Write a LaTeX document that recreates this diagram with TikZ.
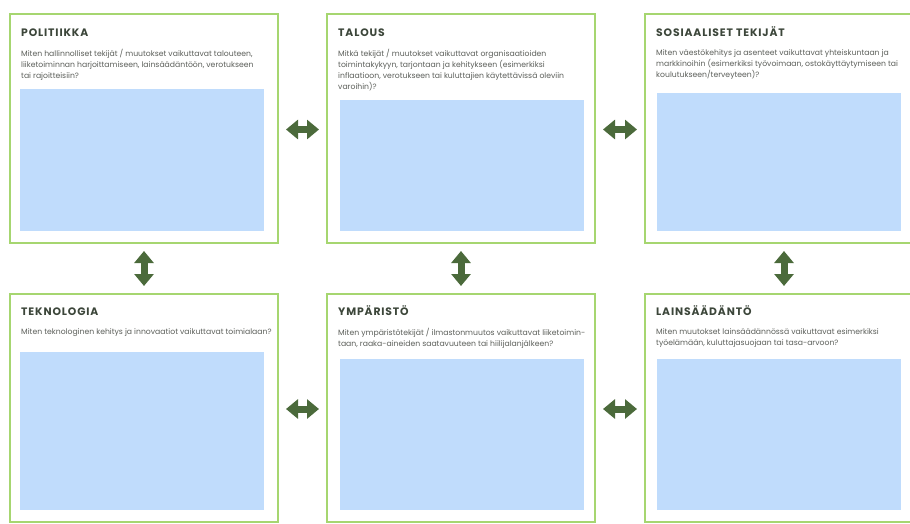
\documentclass[tikz,border=0pt]{standalone}
\usepackage{fontspec}
\setmainfont{Poppins}
\newfontfamily\titlefont[LetterSpace=8]{Poppins}
\usetikzlibrary{arrows.meta}
\definecolor{boxgreen}{HTML}{A6D670}
\definecolor{areablue}{HTML}{C0DCFC}
\definecolor{arrowgreen}{HTML}{4B6A3B}
\definecolor{titlecol}{HTML}{3C463A}
\definecolor{bodycol}{HTML}{5C5F5A}
\tikzset{
  panel/.style={draw=boxgreen, line width=2pt, fill=white},
  area/.style={fill=areablue, draw=none},
  ptitle/.style={anchor=base west, inner sep=0pt, text=titlecol, font=\titlefont\fontsize{10.8}{12}\selectfont\bfseries},
  pbody/.style={anchor=north west, inner sep=0pt, align=left, text=bodycol, font=\fontsize{7.7}{11}\selectfont},
  dbl/.style={draw=arrowgreen, line width=7pt,
    {Triangle[length=12pt,width=19pt]}-{Triangle[length=12pt,width=19pt]},
    shorten <=8pt, shorten >=8pt}
}
\begin{document}
\begin{tikzpicture}[x=1pt,y=-1pt]
\useasboundingbox (0,0) rectangle (910,523);
\fill[white] (0,0) rectangle (910,523);
% panels
\draw[panel] (10,14) rectangle (278,243);
\draw[panel] (327,14) rectangle (595,243);
\draw[panel] (645,14) rectangle (923,243);
\draw[panel] (10,294) rectangle (278,522);
\draw[panel] (327,294) rectangle (595,522);
\draw[panel] (645,294) rectangle (923,522);
\coordinate (b1e) at (278,129.5);
\coordinate (b2w) at (327,129.5);
\coordinate (b2e) at (595,129.5);
\coordinate (b3w) at (645,129.5);
\coordinate (b4e) at (278,409);
\coordinate (b5w) at (327,409);
\coordinate (b5e) at (595,409);
\coordinate (b6w) at (645,409);
\coordinate (b1s) at (144,243);
\coordinate (b4n) at (144,294);
\coordinate (b2s) at (461,243);
\coordinate (b5n) at (461,294);
\coordinate (b3s) at (784,243);
\coordinate (b6n) at (784,294);
% blue areas
\fill[area] (20,89) rectangle (264,231);
\fill[area] (340,100) rectangle (584,231);
\fill[area] (657,93) rectangle (901,231);
\fill[area] (20,352) rectangle (264,510);
\fill[area] (340,359) rectangle (584,510);
\fill[area] (657,359) rectangle (901,510);
% titles
\node[ptitle] (t1) at (21,36) {POLITIIKKA};
\node[ptitle] (t2) at (338,36) {TALOUS};
\node[ptitle] (t3) at (656,36) {SOSIAALISET TEKIJÄT};
\node[ptitle] (t4) at (21,315) {TEKNOLOGIA};
\node[ptitle] (t5) at (338,315) {YMPÄRISTÖ};
\node[ptitle] (t6) at (656,315) {LAINSÄÄDÄNTÖ};
% bodies
\node[pbody] (q1) at (21,49) {Miten hallinnolliset tekijät / muutokset vaikuttavat talouteen,\\liiketoiminnan harjoittamiseen, lainsäädäntöön, verotukseen\\tai rajoitteisiin?};
\node[pbody] (q2) at (338,49) {Mitkä tekijät / muutokset vaikuttavat organisaatioiden\\toimintakykyyn, tarjontaan ja kehitykseen (esimerkiksi\\inflaatioon, verotukseen tai kuluttajien käytettävissä oleviin\\varoihin)?};
\node[pbody] (q3) at (656,49) {Miten väestökehitys ja asenteet vaikuttavat yhteiskuntaan ja\\markkinoihin (esimerkiksi työvoimaan, ostokäyttäytymiseen tai\\koulutukseen/terveyteen)?};
\node[pbody] (q4) at (21,328) {Miten teknologinen kehitys ja innovaatiot vaikuttavat toimialaan?};
\node[pbody] (q5) at (338,328) {Miten ympäristötekijät / ilmastonmuutos vaikuttavat liiketoimin-\\taan, raaka-aineiden saatavuuteen tai hiilijalanjälkeen?};
\node[pbody] (q6) at (656,328) {Miten muutokset lainsäädännössä vaikuttavat esimerkiksi\\työelämään, kuluttajasuojaan tai tasa-arvoon?};
% arrows
\draw[dbl] (b1e) -- (b2w);
\draw[dbl] (b2e) -- (b3w);
\draw[dbl] (b4e) -- (b5w);
\draw[dbl] (b5e) -- (b6w);
\draw[dbl] (b1s) -- (b4n);
\draw[dbl] (b2s) -- (b5n);
\draw[dbl] (b3s) -- (b6n);
\end{tikzpicture}
\end{document}
